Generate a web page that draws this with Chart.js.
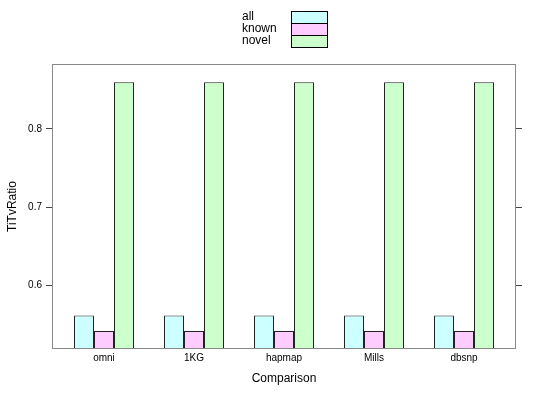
<!DOCTYPE html>
<html>
<head>
<meta charset="utf-8">
<script src="https://cdn.jsdelivr.net/npm/chart.js@4"></script>
<style>
  html, body { margin: 0; padding: 0; background: #fff; }
  #wrap { width: 546px; height: 394px; }
</style>
</head>
<body>
<div id="wrap"><canvas id="chart" width="546" height="394"></canvas></div>
<script>
// datos
const categories = ['omni', '1KG', 'hapmap', 'Mills', 'dbsnp'];
const allValues = [0.561, 0.561, 0.561, 0.561, 0.561];
const knownValues = [0.541, 0.541, 0.541, 0.541, 0.541];
const novelValues = [0.860, 0.860, 0.860, 0.860, 0.860];
const yTicks = [0.6, 0.7, 0.8];
const seriesNames = ['all', 'known', 'novel'];
const seriesColors = ['#CCFFFF', '#FFCCFF', '#CCFFCC'];

const FONT = '"Liberation Sans", Arial, sans-serif';

const toPoints = vals => vals.map((v, i) => ({ x: i + 1, y: v }));

// Caja y leyenda estilo lattice
const boxLegend = {
  id: 'boxLegend',
  afterDraw(chart) {
    const { ctx, chartArea: a } = chart;
    ctx.save();
    ctx.strokeStyle = '#888';
    ctx.lineWidth = 1;
    ctx.strokeRect(a.left + 0.5, a.top + 0.5, a.right - a.left - 1, a.bottom - a.top - 1);

    ctx.font = '12px ' + FONT;
    ctx.textBaseline = 'middle';
    ctx.textAlign = 'left';
    chart.data.datasets.forEach((ds, i) => {
      const y = 11 + i * 12;
      ctx.fillStyle = '#000';
      ctx.fillText(ds.label, 242, y + 6);
      ctx.fillStyle = ds.backgroundColor;
      ctx.fillRect(291, y, 36, 12);
      ctx.strokeStyle = '#000';
      ctx.strokeRect(291.5, y + 0.5, 36, 12);
    });
    ctx.restore();
  }
};

new Chart(document.getElementById('chart'), {
  type: 'bar',
  data: {
    datasets: [allValues, knownValues, novelValues].map((vals, i) => ({
      label: seriesNames[i],
      data: toPoints(vals),
      backgroundColor: seriesColors[i],
      borderColor: '#222',
      borderWidth: 1,
      borderSkipped: false,
      barPercentage: 1,
      categoryPercentage: 2 / 3
    }))
  },
  options: {
    responsive: false,
    animation: false,
    layout: { padding: { top: 64, left: 0, right: 0, bottom: 0 } },
    plugins: { legend: { display: false }, tooltip: { enabled: false } },
    scales: {
      x: {
        type: 'linear',
        offset: false,
        min: 1 - 52 / 90,
        max: 1 - 52 / 90 + 464 / 90,
        afterBuildTicks: s => { s.ticks = categories.map((c, i) => ({ value: i + 1 })); },
        ticks: {
          callback: v => categories[v - 1],
          font: { family: FONT, size: 10 },
          color: '#000',
          padding: 3,
          maxRotation: 0
        },
        grid: { display: false, drawTicks: false, offset: false },
        border: { display: false },
        title: { display: true, text: 'Comparison', font: { family: FONT, size: 12 }, color: '#000', padding: { top: 0, bottom: 8 } },
        afterFit: s => { s.height = 45; }
      },
      y: {
        min: 0.518,
        max: 0.8833,
        afterBuildTicks: s => { s.ticks = yTicks.map(v => ({ value: v })); },
        ticks: { font: { family: FONT, size: 10 }, color: '#000', padding: 4 },
        grid: { drawOnChartArea: false, tickLength: 6, color: '#444' },
        border: { display: false },
        title: { display: true, text: 'TiTvRatio', font: { family: FONT, size: 12 }, color: '#000', padding: { top: 5, bottom: 0 } },
        afterFit: s => { s.width = 52; }
      },
      y2: {
        position: 'right',
        min: 0.518,
        max: 0.8833,
        afterBuildTicks: s => { s.ticks = yTicks.map(v => ({ value: v })); },
        ticks: { display: false },
        grid: { drawOnChartArea: false, tickLength: 6, color: '#444' },
        border: { display: false },
        afterFit: s => { s.width = 30; }
      }
    }
  },
  plugins: [boxLegend]
});
</script>
</body>
</html>
